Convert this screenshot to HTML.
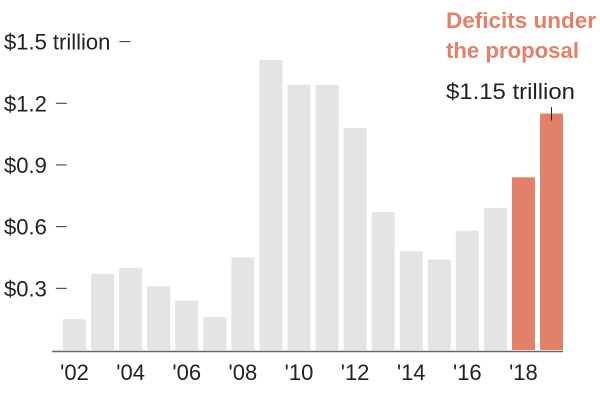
<!DOCTYPE html>
<html><head><meta charset="utf-8"><style>
body{margin:0;background:#fff;}
svg{display:block;font-family:"Liberation Sans",sans-serif;}
</style></head><body>
<svg id="chart" width="600" height="400">
<g id="bars"></g>
<g id="yaxis"></g>
<g id="xaxis"></g>
<line x1="52" x2="563" y1="351.5" y2="351.5" stroke="#666" stroke-width="1.5"/>
<text x="446" y="28" fill="#e2806a" font-weight="bold" font-size="22" textLength="150" lengthAdjust="spacingAndGlyphs">Deficits under</text>
<text x="446" y="58" fill="#e2806a" font-weight="bold" font-size="22" textLength="133" lengthAdjust="spacingAndGlyphs">the proposal</text>
<text x="446" y="99" fill="#222" font-size="22" textLength="129" lengthAdjust="spacingAndGlyphs">$1.15 trillion</text>
<line id="annLine" x1="552" x2="552" y1="107" y2="124" stroke="#222" stroke-width="1"/>
</svg>
<script>
const years=["'02","'03","'04","'05","'06","'07","'08","'09","'10","'11","'12","'13","'14","'15","'16","'17","'18","'19"];
const deficits=[0.15,0.37,0.40,0.31,0.24,0.16,0.45,1.41,1.29,1.29,1.08,0.67,0.48,0.44,0.58,0.69,0.84,1.15];
const proposal=[false,false,false,false,false,false,false,false,false,false,false,false,false,false,false,false,true,true];
const yTicks=[0.3,0.6,0.9,1.2,1.5];
const yTickLabels=["$0.3","$0.6","$0.9","$1.2","$1.5 trillion"];
const ns="http://www.w3.org/2000/svg";
const y=v=>350-v*205.6;
const x=i=>63+i*28.06;
const bw=23;
const bars=document.getElementById('bars');
deficits.forEach((v,i)=>{
 const r=document.createElementNS(ns,'rect');
 r.setAttribute('x',x(i));r.setAttribute('width',bw);
 r.setAttribute('y',y(v));r.setAttribute('height',350-y(v));
 r.setAttribute('fill',proposal[i]?'#e2806a':'#e4e4e4');
 
 
 bars.appendChild(r);
});
const ya=document.getElementById('yaxis');
yTicks.forEach((t,i)=>{
 const tx=document.createElementNS(ns,'text');
 tx.setAttribute('x',4);tx.setAttribute('y',y(t)+8);
 tx.setAttribute('font-size','22');tx.setAttribute('fill','#222');
 tx.textContent=yTickLabels[i];
 
 
 ya.appendChild(tx);
 const w=tx.getComputedTextLength();
 const d=document.createElementNS(ns,'line');
 d.setAttribute('x1',4+w+9);d.setAttribute('x2',4+w+20);
 d.setAttribute('y1',y(t));d.setAttribute('y2',y(t));
 d.setAttribute('stroke','#333');d.setAttribute('stroke-width','1');
 
 
 ya.appendChild(d);
});
const xa=document.getElementById('xaxis');
years.forEach((yr,i)=>{
 if(i%2) return;
 const tx=document.createElementNS(ns,'text');
 tx.setAttribute('x',x(i)+bw/2);tx.setAttribute('y',380);
 tx.setAttribute('text-anchor','middle');
 tx.setAttribute('font-size','22');tx.setAttribute('fill','#222');
 tx.textContent=yr;
 
 
 xa.appendChild(tx);
});
const last=deficits.length-1;
const al=document.getElementById('annLine');
al.setAttribute('x1',x(last)+bw/2);al.setAttribute('x2',x(last)+bw/2);
al.setAttribute('y2',y(deficits[last])+7);
</script>
</body></html>
